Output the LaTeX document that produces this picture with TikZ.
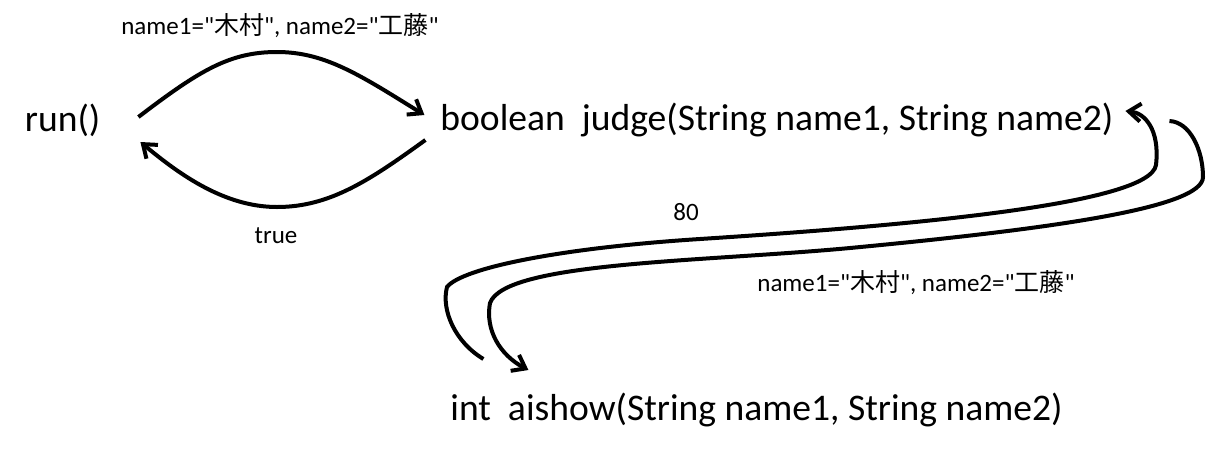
\documentclass[tikz,border=0pt]{standalone}
\usepackage{fontspec}
\setmainfont{Carlito}[Ligatures=TeXOff]
\newfontfamily\cjk{Noto Sans CJK JP}
\usetikzlibrary{positioning,calc,arrows.meta}

\begin{document}
\begin{tikzpicture}[x=0.5pt, y=-0.5pt, line width=2pt, >={Straight Barb[length=6pt,width=9pt]}]
\tikzstyle{func}=[inner sep=0pt, outer sep=0pt, font=\fontsize{18.8}{22}\selectfont]
\tikzstyle{lbl}=[inner sep=0pt, outer sep=0pt, font=\fontsize{12.5}{14}\selectfont]
\useasboundingbox (0,0) rectangle (1206,456);

\node[func, anchor=west] (run) at (25,120) {run()};
\node[func] (judge) [right=170pt of run] {boolean~~judge(String name1, String name2)};
\node[func] (aishow) [below right=145pt and 5pt of judge.west, anchor=west] {int~~aishow(String name1, String name2)};

\node[lbl] (call1) at (280,26)  {name1="{\cjk 木村}", name2="{\cjk 工藤}"};
\node[lbl] (ret1)  at (276,236) {true};
\node[lbl] (ret2)  at (686,212) {80};
\node[lbl] (call2) at (916,283) {name1="{\cjk 木村}", name2="{\cjk 工藤}"};

\draw[->] ($(run.east)+(38,-3)$) .. controls (200,70) and (230,52) .. (277,52)
  .. controls (325,52) and (360,75) .. ($(judge.west)+(-16,-5)$);
\draw[->] ($(judge.west)+(-15,20)$) .. controls (370,180) and (330,207) .. (277,207)
  .. controls (225,207) and (180,175) .. ($(run.east)+(40,22)$);

\draw[->] ($(judge.east)+(56,1)$) .. controls (1190,122) and (1203,150) .. (1203,177)
  .. controls (1203,208) and (1050,229) .. (850,248)
  .. controls (700,262) and (505,262) .. (490,303)
  .. controls (485,330) and (500,355) .. ($(aishow.west)+(78,-40)$);
\draw[->] ($(aishow.west)+(33,-51)$) .. controls (455,342) and (441,310) .. (447,287)
  .. controls (462,268) and (560,248) .. (700,239)
  .. controls (900,226) and (1150,205) .. (1156,165)
  .. controls (1160,130) and (1145,113) .. ($(judge.east)+(12,-9)$);
\end{tikzpicture}
\end{document}
